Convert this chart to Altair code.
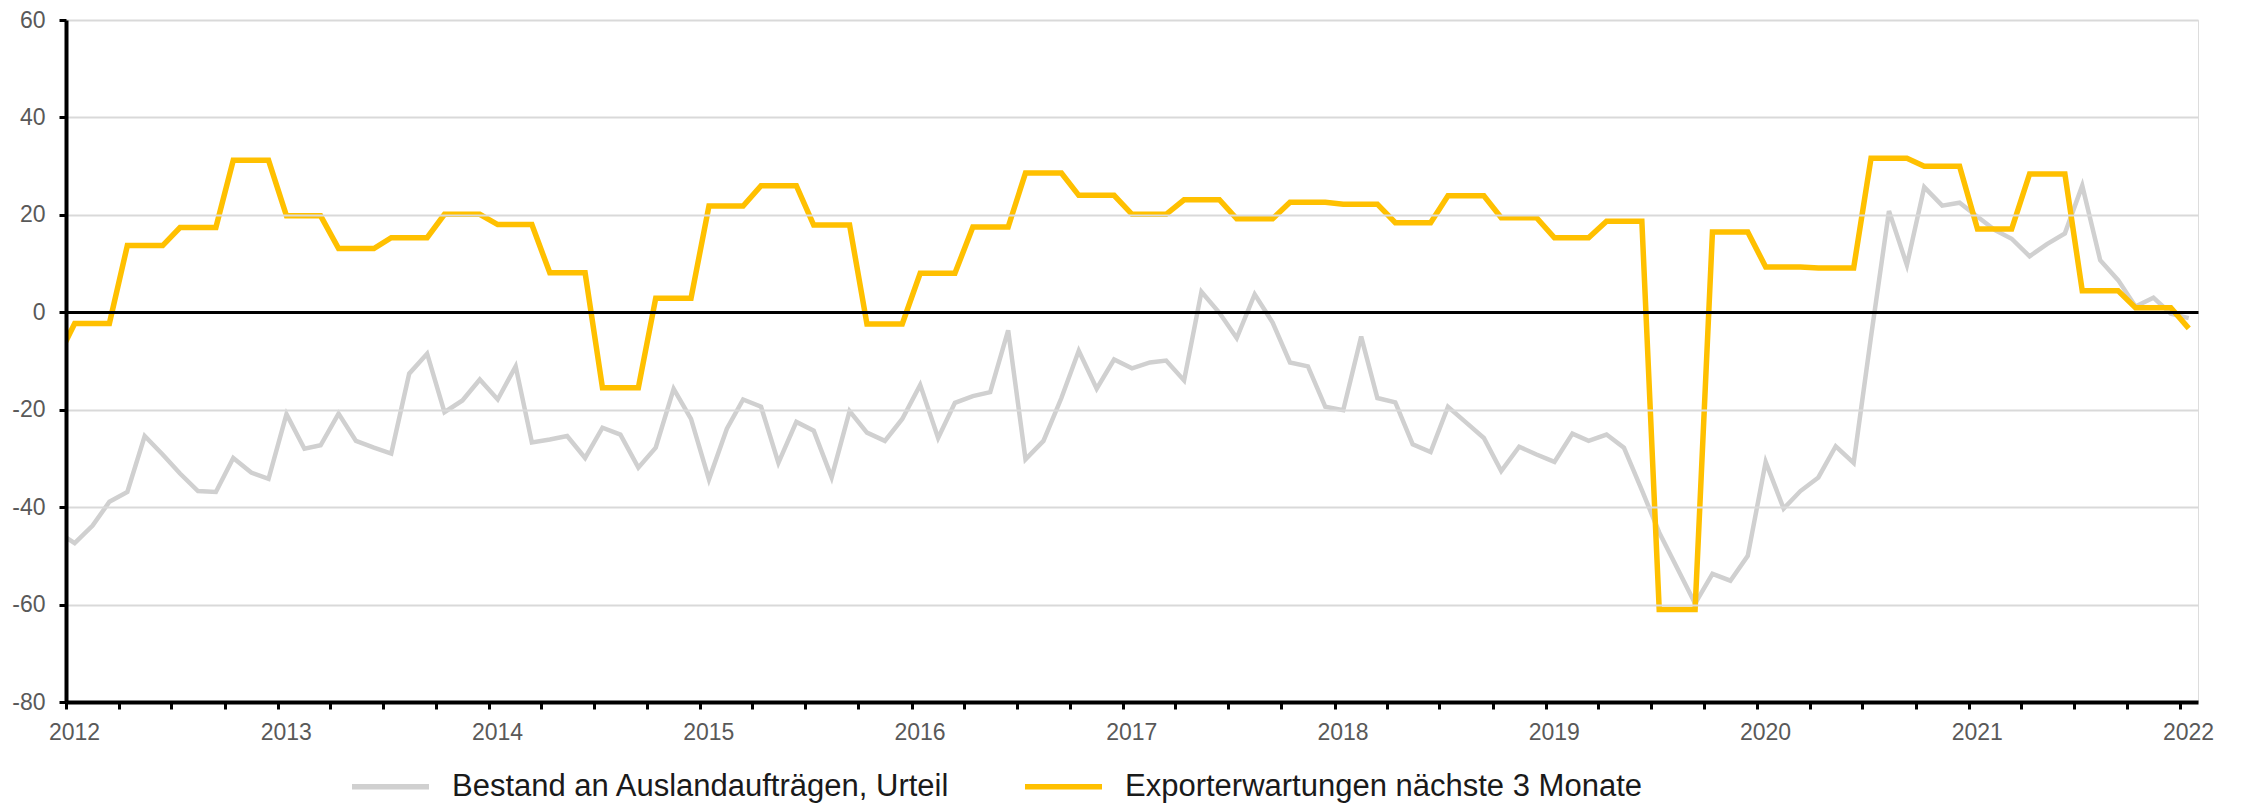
import altair as alt
import pandas as pd

# Monthly observations, Dec 2011 .. Jan 2022 (points at mid-month)
months = [d + pd.Timedelta(days=15) for d in pd.date_range("2011-12-01", "2022-01-01", freq="MS")]

SERIES_GRAY = "Bestand an Auslandaufträgen, Urteil"
SERIES_GOLD = "Exporterwartungen nächste 3 Monate"

bestand = (
    [-45.0]
    + [-47.4, -43.8, -38.9, -36.9, -25.4, -29.2, -33.1, -36.7, -36.9, -29.9, -32.9, -34.2]   # 2012
    + [-20.9, -28.0, -27.3, -20.8, -26.4, -27.8, -29.0, -12.6, -8.5, -20.5, -18.1, -13.8]    # 2013
    + [-17.9, -11.1, -26.7, -26.1, -25.4, -29.9, -23.7, -25.1, -31.9, -27.8, -15.7, -21.9]   # 2014
    + [-34.3, -23.9, -17.9, -19.4, -30.9, -22.5, -24.3, -33.9, -20.3, -24.7, -26.4, -21.9]   # 2015
    + [-14.9, -25.8, -18.6, -17.2, -16.4, -3.7, -30.2, -26.4, -17.6, -7.9, -15.7, -9.7]      # 2016
    + [-11.5, -10.3, -9.9, -14.0, 4.2, -0.1, -5.3, 3.7, -2.1, -10.3, -11.1, -19.4]           # 2017
    + [-20.1, -5.0, -17.6, -18.5, -27.1, -28.7, -19.4, -22.6, -25.8, -32.6, -27.6, -29.2]    # 2018
    + [-30.7, -24.9, -26.4, -25.1, -27.8, -36.5, -45.2, -52.5, -59.8, -53.7, -55.1, -50.0]   # 2019
    + [-30.7, -40.3, -36.7, -33.9, -27.5, -30.9, -5.0, 20.8, 9.7, 25.7, 21.9, 22.5]          # 2020
    + [19.6, 16.8, 15.1, 11.5, 14.0, 16.2, 26.0, 10.7, 6.6, 1.2, 3.0, -0.3]                  # 2021
    + [-1.2]                                                                                 # 2022
)

export = (
    [-9.75]
    + [-2.3, -2.3, -2.3, 13.7, 13.7, 13.7, 17.4, 17.4, 17.4, 31.2, 31.2, 31.2]               # 2012
    + [19.8, 19.8, 19.8, 13.1, 13.1, 13.1, 15.3, 15.3, 15.3, 20.1, 20.1, 20.1]               # 2013
    + [18.0, 18.0, 18.0, 8.1, 8.1, 8.1, -15.5, -15.5, -15.5, 2.9, 2.9, 2.9]                  # 2014
    + [21.8, 21.8, 21.8, 26.0, 26.0, 26.0, 17.9, 17.9, 17.9, -2.4, -2.4, -2.4]               # 2015
    + [8.0, 8.0, 8.0, 17.5, 17.5, 17.5, 28.6, 28.6, 28.6, 24.0, 24.0, 24.0]                  # 2016
    + [20.1, 20.1, 20.1, 23.1, 23.1, 23.1, 19.2, 19.2, 19.2, 22.6, 22.6, 22.6]               # 2017
    + [22.2, 22.2, 22.2, 18.4, 18.4, 18.4, 23.9, 23.9, 23.9, 19.4, 19.4, 19.4]               # 2018
    + [15.3, 15.3, 15.3, 18.7, 18.7, 18.7, -61.0, -61.0, -61.0, 16.5, 16.5, 16.5]            # 2019
    + [9.3, 9.3, 9.3, 9.1, 9.1, 9.1, 31.6, 31.6, 31.6, 30.0, 30.0, 30.0]                     # 2020
    + [17.1, 17.1, 17.1, 28.4, 28.4, 28.4, 4.4, 4.4, 4.4, 0.95, 0.95, 0.95]                  # 2021
    + [-3.3]                                                                                 # 2022
)

y_ticks = [-80, -60, -40, -20, 0, 20, 40, 60]
tick_dates = [alt.DateTime(year=y, month=m, date=1, utc=True)
              for y in range(2012, 2023) for m in (1, 4, 7, 10)
              if not (y == 2022 and m > 1)]

rows = []
for d, v in zip(months, bestand):
    rows.append({"date": d.strftime("%Y-%m-%dT00:00:00Z"), "value": v, "series": SERIES_GRAY})
for d, v in zip(months, export):
    rows.append({"date": d.strftime("%Y-%m-%dT00:00:00Z"), "value": v, "series": SERIES_GOLD})
df = pd.DataFrame(rows)

FONT = "Liberation Sans"

x_enc = alt.X(
    "date:T",
    scale=alt.Scale(type="utc",
                    domain=[alt.DateTime(year=2012, month=1, date=1, utc=True),
                            alt.DateTime(year=2022, month=2, date=1, utc=True)]),
    axis=alt.Axis(
        title=None, values=tick_dates,
        labelExpr="utcmonth(datum.value) === 0 ? utcFormat(datum.value, '%Y') : ''",
        labelFont=FONT, labelFontSize=23, labelColor="#595959",
        labelPadding=12, labelOffset=8, labelFlush=False, labelOverlap=False,
        tickColor="black", tickWidth=3, tickSize=7,
        domainColor="black", domainWidth=4, grid=False, zindex=1,
    ),
)
y_enc = alt.Y(
    "value:Q",
    scale=alt.Scale(domain=[-80, 60], nice=False, zero=False),
    axis=alt.Axis(
        title=None, values=y_ticks,
        labelExpr="datum.value < 0 ? '-' + abs(datum.value) : '' + datum.value",
        labelFont=FONT, labelFontSize=23, labelColor="#595959", labelPadding=14,
        tickColor="black", tickWidth=3, tickSize=7,
        domainColor="black", domainWidth=4,
        grid=True,
        gridColor={"condition": {"test": "datum.value === 0", "value": "black"}, "value": "#D9D9D9"},
        gridWidth={"condition": {"test": "datum.value === 0", "value": 3}, "value": 2},
        zindex=1,
    ),
)

color_enc = alt.Color(
    "series:N",
    scale=alt.Scale(domain=[SERIES_GRAY, SERIES_GOLD], range=["#D0D0D0", "#FFC000"]),
    legend=alt.Legend(
        title=None, orient="none", direction="horizontal",
        legendX=283, legendY=725,
        symbolType="stroke", symbolSize=5929, symbolStrokeWidth=5.5,
        labelFont=FONT, labelFontSize=31, labelColor="#1A1A1A",
        labelOffset=20, labelLimit=1000, columnPadding=63, padding=0,
    ),
)

base = alt.Chart(df)
gray_line = base.transform_filter(alt.datum.series == SERIES_GRAY).mark_line(
    strokeWidth=4.5, clip=True
).encode(x=x_enc, y=y_enc, color=color_enc)
gold_line = base.transform_filter(alt.datum.series == SERIES_GOLD).mark_line(
    strokeWidth=5.5, clip=True
).encode(x=x_enc, y=y_enc, color=color_enc)

chart = (
    alt.layer(gray_line, gold_line)
    .properties(width=2132, height=682,
                padding={"left": 3, "top": 1, "right": 5, "bottom": 5})
    .configure_view(stroke=None)
    .configure(font=FONT)
)

chart.save("out.html", embed_options={"renderer": "svg", "actions": False})
